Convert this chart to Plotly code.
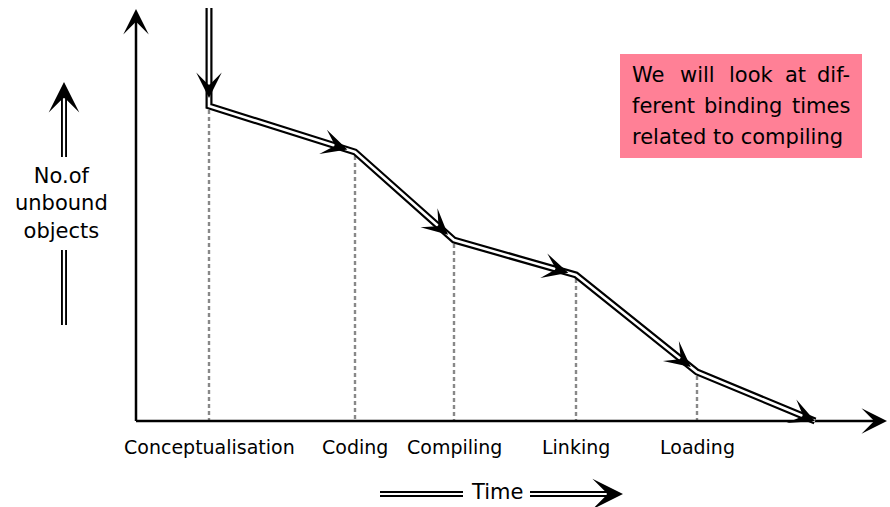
import math
import plotly.graph_objects as go

# ---- data (time position of each stage, number of unbound objects) ----
stages = ["Conceptualisation", "Coding", "Compiling", "Linking", "Loading"]
stage_time = [73, 219, 318, 440, 561]
unbound = [315, 269, 181, 146, 49]
start_time, start_unbound = 73, 413
end_time, end_unbound = 679, 0

x_label = "Time"
y_label = "No.of<br>unbound<br>objects"
note_lines = [["We", "will", "look", "at", "dif-"],
              ["ferent", "binding", "times"],
              ["related to compiling"]]

path_x = [start_time] + stage_time + [end_time]
path_y = [start_unbound] + unbound + [end_unbound]

fig = go.Figure()

# dashed guides from each stage point down to the time axis
gx, gy = [], []
for t, u in zip(stage_time, unbound):
    gx += [t, t, None]
    gy += [u - 4, 0, None]
fig.add_trace(go.Scatter(x=gx, y=gy, mode="lines",
                         line=dict(color="#888888", width=2.4, dash="4px,3px"),
                         hoverinfo="skip"))

# axes
fig.add_trace(go.Scatter(x=[0, 745, None, 0, 0], y=[0, 0, None, 0, 405], mode="lines",
                         line=dict(color="black", width=2.5), hoverinfo="skip"))


def double_line(xs, ys, outer=7, inner=2.6):
    fig.add_trace(go.Scatter(x=xs, y=ys, mode="lines",
                             line=dict(color="black", width=outer), hoverinfo="skip"))
    fig.add_trace(go.Scatter(x=xs, y=ys, mode="lines",
                             line=dict(color="white", width=inner), hoverinfo="skip"))


double_line(path_x, path_y)

annotations = []
K = 1.7  # empirical correction for rendered head size


def head(x, y, dx, dy, scale=2.5, width=1):
    # dx, dy: direction in data units (y up); convert to screen direction
    L = math.hypot(dx, dy)
    ux, uy = dx / L, -dy / L
    tail = 4.6 * scale
    annotations.append(dict(x=x, y=y, xref="x", yref="y", ax=-ux * tail, ay=-uy * tail,
                            text="", showarrow=True, arrowhead=3,
                            arrowsize=scale * K / width,
                            arrowwidth=width, arrowcolor="black", standoff=0,
                            borderpad=0, font=dict(size=1)))


for i in range(len(path_x) - 1):
    x0, y0, x1, y1 = path_x[i], path_y[i], path_x[i + 1], path_y[i + 1]
    dx, dy = x1 - x0, y1 - y0
    L = math.hypot(dx, dy)
    back = 0 if i == len(path_x) - 2 else 8
    head(x1 - dx / L * back, y1 - dy / L * back, dx, dy)

# axis arrow heads
head(751, 0, 1, 0, width=2)
head(0, 412, 0, 1, width=2)

# stage labels
for t, s in zip(stage_time, stages):
    annotations.append(dict(x=t, y=-26, xref="x", yref="y", text=s, showarrow=False,
                            font=dict(family="DejaVu Sans", size=19, color="black")))

# time label with double arrows
double_line([244, 327], [-73, -73], outer=6, inner=2.2)
double_line([394, 476], [-73, -73], outer=6, inner=2.2)
head(487, -73, 1, 0, scale=3)
annotations.append(dict(x=361, y=-71, xref="x", yref="y", text=x_label, showarrow=False,
                        font=dict(family="DejaVu Sans", size=21, color="black")))

# y label with double arrows
double_line([-72, -72], [96, 171], outer=6, inner=2.2)
double_line([-72, -72], [264, 330], outer=6, inner=2.2)
head(-72, 339, 0, 1, scale=3)
annotations.append(dict(x=-75, y=218, xref="x", yref="y", text=y_label, showarrow=False,
                        font=dict(family="DejaVu Sans", size=21, color="black")))

# note box
fig.add_shape(type="rect", x0=484, x1=726, y0=263, y1=367, xref="x", yref="y",
              fillcolor="#FF8096", line=dict(width=0), layer="below")
line_y = [346, 315, 284]
word_x = [[494, 542, 591, 647, 716],
          [494, 566, 716],
          [494]]
for words, xs, yy in zip(note_lines, word_x, line_y):
    for j, (w, wx) in enumerate(zip(words, xs)):
        last = (j == len(words) - 1) and len(words) > 1
        annotations.append(dict(x=wx, y=yy, xref="x", yref="y", text=w, showarrow=False,
                                xanchor="right" if last else "left",
                                font=dict(family="DejaVu Sans", size=21, color="black")))

fig.update_layout(
    width=890, height=507, margin=dict(l=0, r=0, t=0, b=0),
    paper_bgcolor="white", plot_bgcolor="white", showlegend=False,
    xaxis=dict(range=[-136, 754], visible=False, fixedrange=True),
    yaxis=dict(range=[-86, 421], visible=False, fixedrange=True),
    annotations=annotations,
)

fig.write_html("out.html", config={"displayModeBar": False},
               post_script="document.body.style.margin='0';document.body.style.overflow='hidden';")
